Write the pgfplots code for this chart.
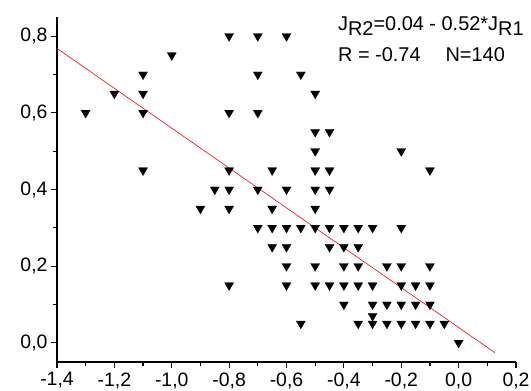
\documentclass[border=0pt]{standalone}
\usepackage{fontspec}
\setmainfont{Liberation Sans}
\usepackage{pgfplots}
\pgfplotsset{compat=1.18}
\begin{document}
\begin{tikzpicture}
\useasboundingbox (-57bp,-29bp) rectangle (474bp,362bp);
\begin{axis}[
 at={(0,0)}, anchor=south west,
 scale only axis, width=459bp, height=345bp,
 xmin=-1.4, xmax=0.2, ymin=-0.05, ymax=0.85,
 axis x line*=bottom, axis y line*=left,
 axis line style={line width=1.6bp, -},
 xtick={-1.4,-1.2,-1.0,-0.8,-0.6,-0.4,-0.2,0,0.2},
 xticklabels={{-1,4},{-1,2},{-1,0},{-0,8},{-0,6},{-0,4},{-0,2},{0,0},{0,2}},
 ytick={0,0.2,0.4,0.6,0.8},
 yticklabels={{0,0},{0,2},{0,4},{0,6},{0,8}},
 minor tick num=1,
 tick align=outside,
 major tick length=6bp, minor tick length=4bp,
 tick style={line width=1.2bp, black},
 ticklabel style={font=\fontsize{19.5}{19.5}\selectfont},
 xticklabel style={yshift=-1bp},
 clip=false,
]
\addplot[only marks, mark=triangle*, mark size=5.2bp,
  mark options={rotate=180, fill=black, draw=black, line width=0.3bp}] coordinates {
(-1.3,0.6) (-1.2,0.65)
(-1.1,0.7) (-1.1,0.65) (-1.1,0.6) (-1.1,0.45)
(-1.0,0.75) (-0.9,0.35) (-0.85,0.4)
(-0.8,0.8) (-0.8,0.6) (-0.8,0.45) (-0.8,0.4) (-0.8,0.35) (-0.8,0.15)
(-0.7,0.8) (-0.7,0.7) (-0.7,0.6) (-0.7,0.4) (-0.7,0.3)
(-0.65,0.45) (-0.65,0.35) (-0.65,0.3) (-0.65,0.25)
(-0.6,0.8) (-0.6,0.4) (-0.6,0.3) (-0.6,0.25) (-0.6,0.2) (-0.6,0.15)
(-0.55,0.7) (-0.55,0.3) (-0.55,0.05)
(-0.5,0.65) (-0.5,0.55) (-0.5,0.5) (-0.5,0.45) (-0.5,0.4) (-0.5,0.35) (-0.5,0.3) (-0.5,0.2) (-0.5,0.15)
(-0.45,0.55) (-0.45,0.45) (-0.45,0.4) (-0.45,0.3) (-0.45,0.25) (-0.45,0.15)
(-0.4,0.3) (-0.4,0.25) (-0.4,0.2) (-0.4,0.15) (-0.4,0.1)
(-0.35,0.3) (-0.35,0.25) (-0.35,0.2) (-0.35,0.15) (-0.35,0.05)
(-0.3,0.3) (-0.3,0.15) (-0.3,0.1) (-0.3,0.07) (-0.3,0.05)
(-0.25,0.2) (-0.25,0.1) (-0.25,0.05)
(-0.2,0.5) (-0.2,0.3) (-0.2,0.2) (-0.2,0.15) (-0.2,0.1) (-0.2,0.05)
(-0.15,0.15) (-0.15,0.1) (-0.15,0.05)
(-0.1,0.45) (-0.1,0.2) (-0.1,0.15) (-0.1,0.1) (-0.1,0.05)
(-0.05,0.05) (0,0)
};
\addplot[red, line width=0.6bp] coordinates {(-1.4,0.768) (0.126,-0.0255)};
\node[anchor=base west, inner sep=0pt, font=\fontsize{20}{20}\selectfont] at (rel axis cs:0.612,0.962)
  {J\raisebox{-5bp}{R2}=0.04 - 0.52*J\raisebox{-5bp}{R1}};
\node[anchor=base west, inner sep=0pt, font=\fontsize{20}{20}\selectfont] at (rel axis cs:0.612,0.87)
  {R = -0.74\hspace{25bp}N=140};
\end{axis}
\end{tikzpicture}
\end{document}
